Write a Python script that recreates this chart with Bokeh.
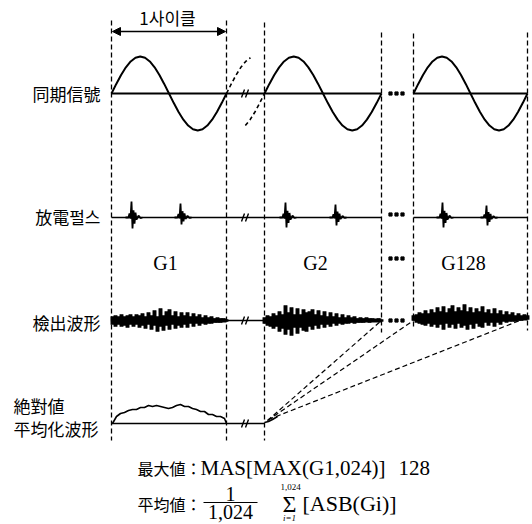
from bokeh.plotting import figure
from bokeh.models import Range1d, Arrow, NormalHead
from bokeh.core.properties import value
from bokeh.embed import file_html
from bokeh.resources import INLINE

# ---------------- data ----------------
row_labels = ["同期信號", "放電펄스", "檢出波形"]
abs_label = ["絶對値", "平均化波形"]
cycle_label = "1사이클"
group_labels = ["G1", "G2", "G128"]

# cycle boundaries (pixel columns of the dashed markers)
cycle_start = [111, 264, 413]
cycle_end = [226, 381, 527]

# one cycle of the sync signal sampled every 15 degrees
sync_shape = [0, .259, .5, .707, .866, .966, 1, .966, .866, .707, .5, .259, 0,
              -.259, -.5, -.707, -.866, -.966, -1, -.966, -.866, -.707, -.5, -.259, 0]

# discharge pulse shape (dx px, relative level) and each pulse's centre / size
pulse_dx = [-7, -4, -3, -2, -1, 0, 1, 2, 3, 4, 6, 8, 10]
pulse_v = [0, 0, .25, -.1, 1.0, -1.0, .45, -.55, .3, -.2, .12, -.05, 0]
pulse_x = [132, 181, 286, 336, 443, 487]
pulse_up = [16, 14, 15, 13, 15, 12]
pulse_dn = [11, 7, 10, 8, 10, 8]

# detected waveform envelopes (upper / lower extent per 3 px column)
det_g1_up = [4, 5, 4, 6, 4, 5, 6, 4, 6, 5, 7, 4, 8, 5, 10, 4, 12, 5, 9, 11, 5, 9, 4, 8, 5, 8, 4, 7, 4, 6, 3, 5, 3, 4, 2, 3, 2, 2, 1]
det_g1_dn = [4, 6, 4, 6, 5, 7, 4, 6, 4, 7, 5, 8, 4, 9, 5, 11, 6, 10, 5, 9, 4, 8, 5, 7, 4, 7, 3, 6, 3, 5, 3, 4, 3, 3, 2, 2, 2, 1, 1]
det_g2_up = [3, 5, 4, 7, 5, 9, 6, 15, 8, 13, 6, 12, 6, 11, 8, 9, 11, 6, 10, 5, 9, 4, 8, 4, 7, 3, 6, 3, 5, 3, 4, 2, 3, 2, 3, 2, 2, 1, 2, 1]
det_g2_dn = [3, 5, 6, 8, 6, 11, 8, 14, 9, 15, 7, 13, 7, 10, 11, 6, 9, 5, 8, 4, 7, 4, 6, 3, 5, 3, 4, 3, 3, 2, 3, 2, 2, 2, 1, 2, 1, 1, 1, 1]
det_g128_up = [3, 4, 6, 5, 8, 5, 9, 6, 11, 7, 12, 6, 10, 13, 7, 11, 8, 14, 7, 11, 6, 10, 7, 12, 6, 9, 5, 10, 5, 8, 4, 7, 4, 6, 3, 5, 3, 4, 3]
det_g128_dn = [2, 4, 5, 6, 7, 5, 8, 6, 9, 6, 11, 5, 9, 6, 10, 5, 9, 7, 11, 6, 10, 5, 8, 9, 4, 7, 4, 8, 4, 6, 3, 4, 3, 3, 3, 2, 2, 1, 1]

# absolute-value averaged waveform (height above baseline, every 4 px)
abs_x = [112, 116, 120, 124, 128, 132, 136, 140, 144, 148, 152, 156, 160, 164, 168,
         172, 176, 180, 184, 188, 192, 196, 200, 204, 208, 212, 216, 220, 224, 226]
abs_h = [0, 7, 10, 11, 13, 14, 14, 16, 16, 18, 17, 18, 17, 16, 15,
         16, 18, 19, 17, 17, 15, 14, 12, 12, 9, 9, 7, 7, 5, 0]

formula1_cjk = "最大値："
formula1_latin = "MAS[MAX(G1,024)]"
formula1_tail = "128"
formula2_cjk = "平均値："
frac_num = "1"
frac_den = "1,024"
sum_upper = "1,024"
sum_lower = "i=1"
sum_body = "[ASB(Gi)]"

# ---------------- layout constants ----------------
Y_SYNC, Y_PULSE, Y_G, Y_DET, Y_ABS = 93, 217, 262, 320, 423
AMP = 37
CJK = value("Noto Sans CJK KR")
SERIF = value("Liberation Serif")

p = figure(width=532, height=524, x_range=Range1d(0, 532), y_range=Range1d(524, 0),
           output_backend="svg", toolbar_location=None, min_border=0)
p.axis.visible = False
p.grid.visible = False
p.outline_line_color = None
p.background_fill_color = "white"
p.border_fill_color = "white"

# dashed cycle markers
vx = [111, 226, 264, 381, 413, 527]
vtop = [20, 20, 22, 32, 33, 32]
vbot = [440, 440, 440, 332, 328, 330]
p.segment(x0=vx, y0=vtop, x1=vx, y1=vbot, line_color="black", line_width=1.3, line_dash="5 3")

# 1 cycle arrow
p.add_layout(Arrow(start=NormalHead(size=8, fill_color="black", line_color="black"),
                   end=NormalHead(size=8, fill_color="black", line_color="black"),
                   x_start=112, y_start=31, x_end=225, y_end=31, line_width=1.3))
p.text(x=[167], y=[17], text=[cycle_label], text_font=CJK, text_font_size="17px",
       text_align="center", text_baseline="middle", text_color="black")

# sync signal
n = len(sync_shape) - 1
for s, e in zip(cycle_start, cycle_end):
    xs = [s + (e - s) * i / n for i in range(n + 1)]
    ys = [Y_SYNC - AMP * v for v in sync_shape]
    p.line(xs, ys, line_color="black", line_width=2)
p.line([111, 381], [Y_SYNC, Y_SYNC], line_color="black", line_width=2)
p.line([413, 527], [Y_SYNC, Y_SYNC], line_color="black", line_width=2)
# dashed continuation arcs around the break
per = cycle_end[0] - cycle_start[0]
a1 = sync_shape[0:6]
p.line([226 + per * i / n for i in range(len(a1))], [Y_SYNC - AMP * v for v in a1],
       line_color="black", line_width=1.6, line_dash="4 3")
a2 = sync_shape[20:25]
p.line([264 - per * (len(a2) - 1 - i) / n for i in range(len(a2))], [Y_SYNC - AMP * v for v in a2],
       line_color="black", line_width=1.6, line_dash="4 3")

# pulse row
p.line([111, 381], [Y_PULSE, Y_PULSE], line_color="black", line_width=1.6)
p.line([413, 527], [Y_PULSE, Y_PULSE], line_color="black", line_width=1.6)
for cx, up, dn in zip(pulse_x, pulse_up, pulse_dn):
    xs = [cx + d for d in pulse_dx]
    ys = [Y_PULSE - (v * up if v > 0 else v * dn) for v in pulse_v]
    p.line(xs, ys, line_color="black", line_width=1.8)

# group labels
p.text(x=[165, 315, 463], y=[Y_G, Y_G, Y_G], text=group_labels, text_font=SERIF,
       text_font_size="20px", text_align="center", text_baseline="middle", text_color="black")

# detected waveforms (columns of noise)
p.line([226, 264], [Y_DET, Y_DET], line_color="black", line_width=1.3)
for s, up, dn, base in [(112, det_g1_up, det_g1_dn, Y_DET), (264, det_g2_up, det_g2_dn, Y_DET),
                        (413, det_g128_up, det_g128_dn, 318)]:
    xs = [s + 3 * i for i in range(len(up))]
    p.vbar(x=xs, width=3.4, top=[base - u for u in up], bottom=[base + d for d in dn],
           fill_color="black", line_color="black", line_width=0.5)
    p.line([xs[0], xs[-1]], [base, base], line_color="black", line_width=4)

# absolute averaged waveform
p.line([111, 264], [Y_ABS, Y_ABS], line_color="black", line_width=1.6)
p.line(abs_x, [Y_ABS - h for h in abs_h], line_color="black", line_width=1.6)
p.line([264, 268, 272, 277], [422, 421, 419, 416], line_color="black", line_width=1.6)

# converging dashed lines
p.segment(x0=[267, 267, 268], y0=[420, 420, 419], x1=[381, 413, 527], y1=[320, 320, 317],
          line_color="black", line_width=1.2, line_dash="5 3")

# break marks
for by in [Y_SYNC, Y_PULSE, Y_DET, Y_ABS]:
    p.segment(x0=[241, 245], y0=[by + 4, by + 4], x1=[244, 248], y1=[by - 4, by - 4],
              line_color="black", line_width=1.4)

# ellipsis dots between G2 and G128
for dy in [Y_SYNC, 214, 258, Y_DET]:
    p.scatter(x=[390, 396, 402], y=[dy, dy, dy], size=3.2, marker="square",
              fill_color="black", line_color="black")

# row labels
p.text(x=[100, 100, 100], y=[Y_SYNC, 216, 322], text=row_labels, text_font=CJK,
       text_font_size="17px", text_align="right", text_baseline="middle", text_color="black")
p.text(x=[13, 13], y=[405, 428], text=abs_label, text_font=CJK, text_font_size="17px",
       text_align="left", text_baseline="middle", text_color="black")

# formulas
p.text(x=[137], y=[467], text=[formula1_cjk], text_font=CJK, text_font_size="16px",
       text_align="left", text_baseline="middle", text_color="black")
p.text(x=[200], y=[467], text=[formula1_latin], text_font=SERIF, text_font_size="21px",
       text_align="left", text_baseline="middle", text_color="black")
p.text(x=[398], y=[467], text=[formula1_tail], text_font=SERIF, text_font_size="21px",
       text_align="left", text_baseline="middle", text_color="black")
p.text(x=[137], y=[503], text=[formula2_cjk], text_font=CJK, text_font_size="16px",
       text_align="left", text_baseline="middle", text_color="black")
p.segment(x0=[203], y0=[502], x1=[257], y1=[502], line_color="black", line_width=1.2)
p.text(x=[230], y=[493], text=[frac_num], text_font=SERIF, text_font_size="20px",
       text_align="center", text_baseline="middle", text_color="black")
p.text(x=[230], y=[511], text=[frac_den], text_font=SERIF, text_font_size="20px",
       text_align="center", text_baseline="middle", text_color="black")
p.text(x=[289], y=[503], text=["Σ"], text_font=SERIF, text_font_size="24px",
       text_align="center", text_baseline="middle", text_color="black")
p.text(x=[290], y=[486], text=[sum_upper], text_font=SERIF, text_font_size="9px",
       text_align="center", text_baseline="middle", text_color="black")
p.text(x=[289], y=[517], text=[sum_lower], text_font=SERIF, text_font_size="9px",
       text_font_style="italic", text_align="center", text_baseline="middle", text_color="black")
p.text(x=[302], y=[503], text=[sum_body], text_font=SERIF, text_font_size="22px",
       text_align="left", text_baseline="middle", text_color="black")

html = file_html(p, INLINE)
html = html.replace("<head>", "<head><style>html,body{overflow:hidden;}</style>", 1)
open("out.html", "w").write(html)
